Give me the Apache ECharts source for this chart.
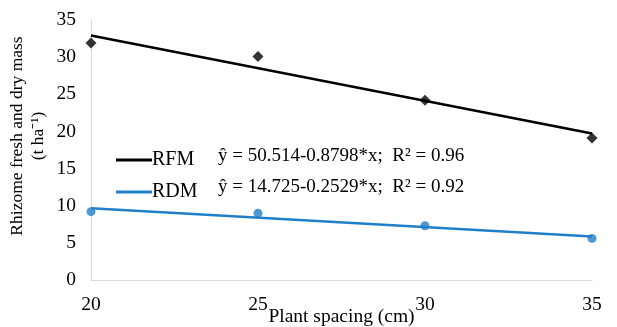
<!DOCTYPE html>
<html><head><meta charset="utf-8">
<script src="https://cdn.jsdelivr.net/npm/echarts@6/dist/echarts.min.js"></script>
<style>html,body{margin:0;padding:0;background:#fff}#c{width:617px;height:327px}</style>
</head><body><div id="c"></div>
<script>
const spacing = [20, 25, 30, 35];
const rfm = [31.9, 30.1, 24.2, 19.1];
const rdm = [9.2, 9.0, 7.3, 5.6];
const trendX = [20, 35];
const rfmTrend = [32.92, 19.72];
const rdmTrend = [9.67, 5.87];
const xTicks = [20, 25, 30, 35];
const yTicks = [0, 5, 10, 15, 20, 25, 30, 35];
const yTitle = 'Rhizome fresh and dry mass\n(t ha⁻¹)';
const xTitle = 'Plant spacing (cm)';
const eqRFM = 'ŷ = 50.514-0.8798*x;  R² = 0.96';
const eqRDM = 'ŷ = 14.725-0.2529*x;  R² = 0.92';

const font = '"Liberation Serif", "Times New Roman", serif';
const chart = echarts.init(document.getElementById('c'), null, {renderer: 'canvas'});
const pair = (xs, ys) => xs.map((x, i) => [x, ys[i]]);
chart.setOption({
  animation: false,
  backgroundColor: '#fff',
  grid: {left: 91, right: 25, top: 20, bottom: 47, containLabel: false, outerBoundsMode: 'none'},
  xAxis: {
    type: 'value', min: xTicks[0], max: xTicks[xTicks.length-1], interval: 5,
    axisLine: {lineStyle: {color: '#d9d9d9'}}, axisTick: {show: false}, splitLine: {show: false},
    axisLabel: {color: '#000', fontFamily: font, fontSize: 19.5, margin: 15},
    name: xTitle, nameLocation: 'middle', nameGap: 37, nameMoveOverlap: false,
    nameTextStyle: {color: '#000', fontFamily: font, fontSize: 19.5, verticalAlign: 'middle'}
  },
  yAxis: {
    type: 'value', min: yTicks[0], max: yTicks[yTicks.length-1], interval: 5,
    axisLine: {show: true, lineStyle: {color: '#d9d9d9'}}, axisTick: {show: false}, splitLine: {show: false},
    axisLabel: {color: '#000', fontFamily: font, fontSize: 19.5, margin: 15}
  },
  legend: {
    orient: 'vertical', left: 111, top: 145, itemWidth: 36, itemHeight: 3, itemGap: 12,
    icon: 'rect', data: ['RFM', 'RDM'],
    textStyle: {color: '#000', fontFamily: font, fontSize: 20, padding: [0,0,0,-5]}
  },
  graphic: [
    {type: 'text', x: 28, y: 136, rotation: Math.PI / 2,
      style: {text: yTitle, fontFamily: font, fontSize: 17.5, lineHeight: 21, fill: '#000', align: 'center', verticalAlign: 'middle'}},
    {type: 'text', left: 218, top: 147, style: {text: eqRFM, fontFamily: font, fontSize: 19, fill: '#000'}},
    {type: 'text', left: 218, top: 178, style: {text: eqRDM, fontFamily: font, fontSize: 19, fill: '#000'}}
  ],
  series: [
    {name: 'RFM', type: 'line', data: pair(trendX, rfmTrend), symbol: 'none', lineStyle: {color: '#000', width: 2.5}, itemStyle: {color: '#000'}},
    {name: 'RDM', type: 'line', data: pair(trendX, rdmTrend), symbol: 'none', lineStyle: {color: '#1f7fc8', width: 2.5}, itemStyle: {color: '#1f7fc8'}},
    {name: 'RFM obs', type: 'scatter', data: pair(spacing, rfm), symbol: 'diamond', symbolSize: 11, itemStyle: {color: '#000'}},
    {name: 'RDM obs', type: 'scatter', data: pair(spacing, rdm), symbol: 'circle', symbolSize: 9, itemStyle: {color: '#1f7fc8'}}
  ]
});
</script></body></html>
